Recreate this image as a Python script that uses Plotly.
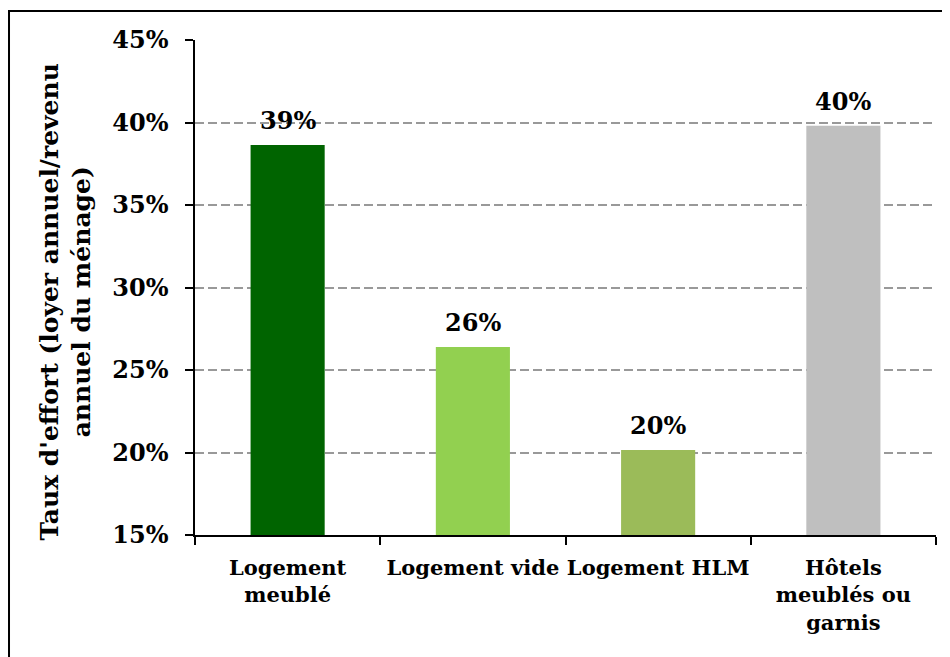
import plotly.graph_objects as go

categories = ["Logement<br>meublé", "Logement vide", "Logement HLM", "Hôtels<br>meublés ou<br>garnis"]
values = [38.64, 26.4, 20.15, 39.8]
labels = ["39%", "26%", "20%", "40%"]
colors = ["#006400", "#92D050", "#9BBB59", "#BFBFBF"]
y_ticks = [15, 20, 25, 30, 35, 40, 45]

FONT = "DejaVu Serif"

fig = go.Figure()
fig.add_trace(go.Bar(
    x=categories, y=values, marker=dict(color=colors, line=dict(width=0)),
    width=0.4, showlegend=False, hoverinfo="skip",
))

for c, v, t in zip(categories, values, labels):
    fig.add_annotation(x=c, y=v, text="<b>%s</b>" % t, showarrow=False,
                       yanchor="bottom", yshift=8,
                       font=dict(family=FONT, size=24, color="black"))

fig.add_annotation(xref="paper", yref="paper", x=-0.174, y=0.47,
                   text="<b>Taux d'effort (loyer annuel/revenu<br>annuel du ménage)</b>",
                   textangle=-90, showarrow=False, xanchor="center", yanchor="middle",
                   font=dict(family=FONT, size=25, color="black"))

# outer frame
fig.add_shape(type="rect", xref="paper", yref="paper",
              x0=-0.251, x1=1.03, y0=-0.27, y1=1.0586,
              line=dict(color="black", width=2), fillcolor="rgba(0,0,0,0)", layer="above")

fig.update_layout(
    width=942, height=649,
    margin=dict(l=187, r=14, t=32, b=122, autoexpand=False),
    paper_bgcolor="white", plot_bgcolor="white",
    font=dict(family=FONT, color="black"),
    xaxis=dict(
        showline=True, linecolor="black", linewidth=1.5,
        ticks="outside", tickson="boundaries", ticklen=8, tickcolor="black", tickwidth=1.5,
        tickfont=dict(family=FONT, size=21, color="black"), tickangle=0,
        showgrid=False, ticklabelstandoff=13, automargin=False,
    ),
    yaxis=dict(
        range=[15, 45], tickvals=y_ticks, ticktext=["<b>%d%%</b>" % v for v in y_ticks],
        showline=True, linecolor="black", linewidth=1.5,
        ticks="outside", ticklen=8, tickcolor="black", tickwidth=1.5,
        tickfont=dict(family=FONT, size=24, color="black"),
        showgrid=True, gridcolor="#999999", gridwidth=2, griddash="9px,4px",
        zeroline=False, ticklabelstandoff=12, automargin=False,
    ),
)
fig.update_xaxes(tickvals=categories, ticktext=["<b>%s</b>" % c for c in categories])

fig.write_html("out.html")
